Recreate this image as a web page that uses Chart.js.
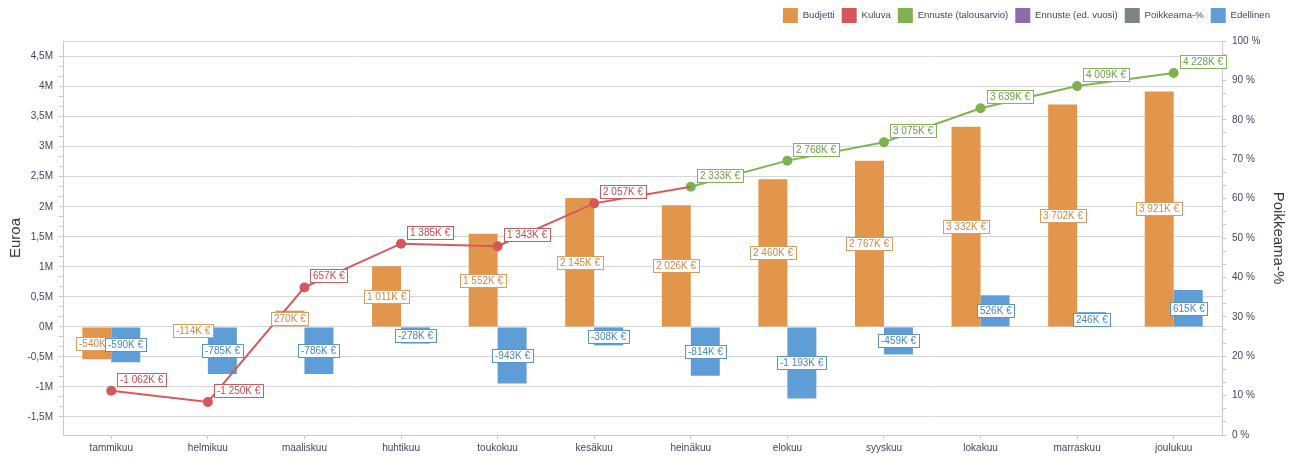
<!DOCTYPE html>
<html>
<head>
<meta charset="utf-8">
<script src="https://cdn.jsdelivr.net/npm/chart.js@4/dist/chart.umd.min.js"></script>
<style>
  html, body { margin: 0; padding: 0; background: #fff; }
  #wrap { width: 1291px; height: 458px; }
</style>
</head>
<body>
<div id="wrap"><canvas id="chart" width="1291" height="458"></canvas></div>
<script>
// months
const months = ["tammikuu", "helmikuu", "maaliskuu", "huhtikuu", "toukokuu", "kesäkuu",
  "heinäkuu", "elokuu", "syyskuu", "lokakuu", "marraskuu", "joulukuu"];

// values in thousands of euros
const budjetti = [-540, -114, 270, 1011, 1552, 2145, 2026, 2460, 2767, 3332, 3702, 3921];
const edellinen = [-590, -785, -786, -278, -943, -308, -814, -1193, -459, 526, 246, 615];
// last value only joins the red line to the forecast start
const kuluva = [-1062, -1250, 657, 1385, 1343, 2057, 2333, null, null, null, null, null];
const kuluvaLabelled = [true, true, true, true, true, true, false, false, false, false, false, false];
const ennuste = [null, null, null, null, null, null, 2333, 2768, 3075, 3639, 4009, 4228];
const ennusteEdVuosi = [];
const poikkeama = [];

// axis ticks
const euroTicks = [-1.5, -1, -0.5, 0, 0.5, 1, 1.5, 2, 2.5, 3, 3.5, 4, 4.5]; // millions
const pctTicks = [0, 10, 20, 30, 40, 50, 60, 70, 80, 90, 100];

const FONT = "'Liberation Sans', Arial, sans-serif";

const toEur = a => a.map(v => v === null ? null : v * 1000);
const fmtK = v => {
  const k = Math.round(v / 1000);
  const s = Math.abs(k).toString().replace(/\B(?=(\d{3})+(?!\d))/g, " ");
  return (k < 0 ? "-" : "") + s + "K €";
};

// major + minor ticks (2 minor ticks between majors)
function withMinor(majors, scaleBy) {
  const out = [];
  majors.forEach((m, i) => {
    out.push({ value: m * scaleBy, major: true });
    if (i < majors.length - 1) {
      const step = (majors[i + 1] - m) / 3;
      out.push({ value: (m + step) * scaleBy, major: false });
      out.push({ value: (m + 2 * step) * scaleBy, major: false });
    }
  });
  return out;
}

// legend: a bit more room below it and pulled in from the right edge
const legendTweak = {
  id: "legendTweak",
  beforeLayout(chart) {
    const lg = chart.legend;
    if (lg && !lg._tweaked) {
      const fit = lg.fit.bind(lg);
      lg.fit = function () { fit(); this.height += 8; };
      lg._tweaked = true;
    }
  },
  afterLayout(chart) {
    const lg = chart.legend;
    if (lg) { lg.right -= 14; lg.width -= 14; }
  }
};

const labelPlugin = {
  id: "valueBoxes",
  afterDatasetsDraw(chart) {
    const ctx = chart.ctx;
    ctx.save();
    ctx.font = "10px " + FONT;
    ctx.textBaseline = "middle";
    chart.data.datasets.forEach((ds, di) => {
      if (!ds.boxText) return;
      const meta = chart.getDatasetMeta(di);
      meta.data.forEach((el, i) => {
        const v = ds.data[i];
        if (v === null || v === undefined) return;
        if (ds.labelMask && !ds.labelMask[i]) return;
        const txt = fmtK(v);
        const w = Math.ceil(ctx.measureText(txt).width) + 5;
        const h = 13;
        let x, y;
        if (meta.type === "bar") {
          x = el.x - w / 2;
          y = (el.y + el.base) / 2 - h / 2;
        } else {
          x = el.x + 6;
          y = el.y - 5 - h;
        }
        x = Math.round(x) + 0.5;
        y = Math.round(y) + 0.5;
        ctx.fillStyle = "#ffffff";
        ctx.fillRect(x, y, w, h);
        ctx.strokeStyle = ds.boxBorder;
        ctx.lineWidth = 1;
        ctx.strokeRect(x, y, w, h);
        ctx.fillStyle = ds.boxText;
        ctx.fillText(txt, x + 2.5, y + h / 2 + 0.5);
      });
    });
    ctx.restore();
  }
};

const tickColor = "#42465c";
const gridColor = "#d6d6d6";
const axisColor = "#c8c8c8";

new Chart(document.getElementById("chart"), {
  data: {
    labels: months,
    datasets: [
      {
        type: "bar", label: "Budjetti", data: toEur(budjetti), yAxisID: "y",
        backgroundColor: "#e1964b", order: 2,
        boxBorder: "#dc9d62", boxText: "#d18a45"
      },
      {
        type: "line", label: "Kuluva", data: toEur(kuluva), yAxisID: "y",
        borderColor: "#d65a5d", backgroundColor: "#d4575a", borderWidth: 2,
        pointRadius: kuluvaLabelled.map(f => f ? 5 : 0), pointBorderWidth: 0,
        order: 0, spanGaps: false, labelMask: kuluvaLabelled,
        boxBorder: "#cf5b5e", boxText: "#c94a4e"
      },
      {
        type: "line", label: "Ennuste (talousarvio)", data: toEur(ennuste), yAxisID: "y",
        borderColor: "#80b552", backgroundColor: "#7db24f", borderWidth: 2,
        pointRadius: 5, pointBorderWidth: 0, order: 0,
        boxBorder: "#83b45a", boxText: "#6f9f47"
      },
      {
        type: "line", label: "Ennuste (ed. vuosi)", data: ennusteEdVuosi, yAxisID: "y",
        borderColor: "#8e6aab", backgroundColor: "#8e6aab", order: 0
      },
      {
        type: "line", label: "Poikkeama-%", data: poikkeama, yAxisID: "y2",
        borderColor: "#7f8383", backgroundColor: "#7f8383", order: 0
      },
      {
        type: "bar", label: "Edellinen", data: toEur(edellinen), yAxisID: "y",
        backgroundColor: "#5e9dd6", order: 2,
        boxBorder: "#5b94cb", boxText: "#4a86c0"
      }
    ]
  },
  options: {
    responsive: false,
    animation: false,
    events: [],
    layout: { padding: { top: 1, right: 0, left: 0, bottom: 0 } },
    datasets: { bar: { categoryPercentage: 0.6, barPercentage: 1.0 } },
    plugins: {
      tooltip: { enabled: false },
      legend: {
        position: "top",
        align: "end",
        labels: {
          boxWidth: 15, boxHeight: 15, padding: 7,
          color: tickColor,
          font: { family: FONT, size: 9.6 },
          generateLabels(chart) {
            return chart.data.datasets.map((ds, i) => ({
              text: ds.label, fillStyle: ds.backgroundColor, strokeStyle: ds.backgroundColor,
              lineWidth: 0, hidden: false, datasetIndex: i, fontColor: tickColor
            }));
          }
        }
      }
    },
    scales: {
      x: {
        offset: true,
        grid: { offset: false, drawOnChartArea: false, tickLength: 4, tickColor: axisColor },
        border: { color: axisColor },
        ticks: { color: tickColor, font: { family: FONT, size: 10 }, padding: 3, maxRotation: 0 },
        afterFit(scale) { scale.height = 23; }
      },
      y: {
        position: "left",
        min: -1800000, max: 4760000,
        afterBuildTicks(scale) { scale.ticks = withMinor(euroTicks, 1000000); },
        grid: {
          color: c => (c.tick && c.tick.major) ? gridColor : "rgba(0,0,0,0)",
          tickColor: axisColor, tickLength: 4
        },
        border: { color: axisColor },
        ticks: {
          autoSkip: false, color: tickColor, padding: 6,
          font: { family: FONT, size: 10 },
          callback(v, i, ticks) {
            if (!ticks[i].major) return "";
            return (v / 1000000).toString().replace(".", ",") + "M";
          }
        },
        title: {
          display: true, text: "Euroa", color: "#3a3a3a",
          font: { family: FONT, size: 15 }, padding: { top: 7, bottom: 0 }
        },
        afterFit(scale) { scale.width = 63; }
      },
      y2: {
        position: "right",
        min: 0, max: 100,
        afterBuildTicks(scale) { scale.ticks = withMinor(pctTicks, 1); },
        grid: {
          // only the top edge of the plot is drawn from this axis
          color: c => (c.tick && c.tick.value === 100) ? gridColor : "rgba(0,0,0,0)",
          tickColor: axisColor, tickLength: 4
        },
        border: { color: axisColor },
        ticks: {
          autoSkip: false, color: tickColor, padding: 6,
          font: { family: FONT, size: 10 },
          callback(v, i, ticks) { return ticks[i].major ? v + " %" : ""; }
        },
        title: {
          display: true, text: "Poikkeama-%", color: "#3a3a3a",
          font: { family: FONT, size: 15 }, padding: { top: 4, bottom: 0 }
        },
        afterFit(scale) { scale.width = 69; }
      }
    }
  },
  plugins: [legendTweak, labelPlugin]
});
</script>
</body>
</html>
